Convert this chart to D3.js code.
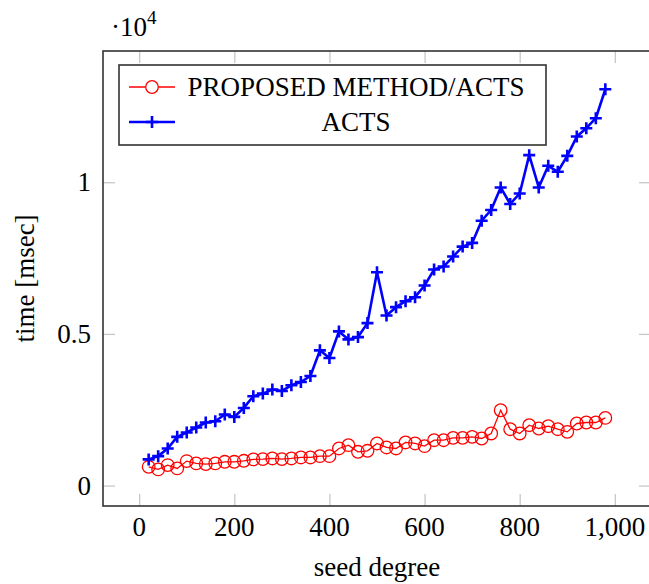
<!DOCTYPE html>
<html>
<head>
<meta charset="utf-8">
<script src="https://cdn.jsdelivr.net/npm/d3@7"></script>
<style>
body { margin: 0; background: #fff; }
svg { display: block; font-family: "Liberation Serif", "DejaVu Serif", serif; }
</style>
</head>
<body>
<script>
var seedDegree = [20, 40, 60, 80, 100, 120, 140, 160, 180, 200, 220, 240, 260, 280, 300, 320, 340, 360, 380, 400,
    420, 440, 460, 480, 500, 520, 540, 560, 580, 600, 620, 640, 660, 680, 700, 720, 740, 760, 780, 800,
    820, 840, 860, 880, 900, 920, 940, 960, 980];
var proposedTime = [618, 532, 674, 565, 806, 730, 707, 730, 783, 783, 816, 862, 872, 894, 872, 894, 927, 927, 970, 970,
    1223, 1332, 1112, 1145, 1388, 1256, 1223, 1421, 1388, 1299, 1496, 1496, 1572, 1572, 1605, 1552, 1717, 2483, 1858, 1717,
    1990, 1881, 1957, 1858, 1770, 2046, 2079, 2079, 2230];
var actsTime = [862, 970, 1223, 1605, 1750, 1914, 2078, 2121, 2341, 2263, 2559, 2944, 3032, 3164, 3118, 3305, 3414, 3611, 4457, 4204,
    5082, 4818, 4894, 5355, 7032, 5608, 5881, 6078, 6210, 6594, 7121, 7220, 7549, 7877, 7999, 8732, 9084, 9828, 9282, 9630,
    10893, 9828, 10541, 10344, 10870, 11505, 11781, 12110, 13064];
var xTicks = [0, 200, 400, 600, 800, 1000];
var yTicks = [0, 5000, 10000];
var legendLabels = ["PROPOSED METHOD/ACTS", "ACTS"];

var width = 649, height = 584;
var plotLeft = 103, plotRight = 651, plotTop = 51, plotBottom = 506;
var fontSize = 27;

var svg = d3.select("body").append("svg").attr("width", width).attr("height", height);
svg.append("rect").attr("width", width).attr("height", height).attr("fill", "#fff");

var x = d3.scaleLinear().domain([-76, 1076]).range([plotLeft, plotRight]);
var y = d3.scaleLinear().domain([-674, 14326]).range([plotBottom, plotTop]);

// ticks on all four sides, pointing inward
var tickLen = 12;
var tickColor = "#c8c8c8";
function styleTicks(g) {
    g.select(".domain").remove();
    g.selectAll("line").attr("stroke", tickColor).attr("stroke-width", 1.3);
}
svg.append("g").attr("transform", "translate(0," + plotBottom + ")")
    .call(d3.axisBottom(x).tickValues(xTicks).tickSize(-tickLen).tickFormat(""))
    .call(styleTicks);
svg.append("g").attr("transform", "translate(0," + plotTop + ")")
    .call(d3.axisTop(x).tickValues(xTicks).tickSize(-tickLen).tickFormat(""))
    .call(styleTicks);
svg.append("g").attr("transform", "translate(" + plotLeft + ",0)")
    .call(d3.axisLeft(y).tickValues(yTicks).tickSize(-tickLen).tickFormat(""))
    .call(styleTicks);
svg.append("g").attr("transform", "translate(" + plotRight + ",0)")
    .call(d3.axisRight(y).tickValues(yTicks).tickSize(-tickLen).tickFormat(""))
    .call(styleTicks);

// tick labels
svg.selectAll("text.xlab").data(xTicks).enter().append("text")
    .attr("class", "xlab")
    .attr("x", function (d) { return x(d); })
    .attr("y", 536)
    .attr("text-anchor", "middle")
    .attr("font-size", fontSize)
    .text(function (d) { return d3.format(",")(d); });
svg.selectAll("text.ylab").data(yTicks).enter().append("text")
    .attr("class", "ylab")
    .attr("x", 91)
    .attr("y", function (d) { return y(d) + 9; })
    .attr("text-anchor", "end")
    .attr("font-size", fontSize)
    .text(function (d) { return d / 10000; });

var mult = svg.append("text").attr("x", 111).attr("y", 36).attr("font-size", fontSize);
mult.append("tspan").text("\u00b710");
mult.append("tspan").attr("dy", -12).attr("font-size", 19).text("4");

// axis titles
svg.append("text").attr("x", (plotLeft + plotRight) / 2).attr("y", 576)
    .attr("text-anchor", "middle").attr("font-size", fontSize).text("seed degree");
svg.append("text").attr("transform", "translate(34," + ((plotTop + plotBottom) / 2) + ") rotate(-90)")
    .attr("text-anchor", "middle").attr("font-size", fontSize).text("time [msec]");

var plot = svg.append("g");
var line = d3.line().x(function (d) { return x(d[0]); }).y(function (d) { return y(d[1]); });
var redPts = d3.zip(seedDegree, proposedTime);
var bluePts = d3.zip(seedDegree, actsTime);

plot.append("path").datum(redPts).attr("d", line)
    .attr("fill", "none").attr("stroke", "#ff0000").attr("stroke-width", 1.3);
plot.selectAll("circle.red").data(redPts).enter().append("circle")
    .attr("class", "red")
    .attr("cx", function (d) { return x(d[0]); })
    .attr("cy", function (d) { return y(d[1]); })
    .attr("r", 6.3)
    .attr("fill", "none").attr("stroke", "#ff0000").attr("stroke-width", 1.3);

plot.append("path").datum(bluePts).attr("d", line)
    .attr("fill", "none").attr("stroke", "#0000ff").attr("stroke-width", 2.6).attr("stroke-linejoin", "round");
var plusPath = "M-6,0H6M0,-6V6";
plot.selectAll("path.plus").data(bluePts).enter().append("path")
    .attr("class", "plus")
    .attr("transform", function (d) { return "translate(" + x(d[0]) + "," + y(d[1]) + ")"; })
    .attr("d", plusPath)
    .attr("fill", "none").attr("stroke", "#0000ff").attr("stroke-width", 2.6);

// frame
svg.append("rect").attr("x", plotLeft).attr("y", plotTop)
    .attr("width", plotRight - plotLeft).attr("height", plotBottom - plotTop)
    .attr("fill", "none").attr("stroke", "#333").attr("stroke-width", 1.6);

// legend
var lg = svg.append("g");
lg.append("rect").attr("x", 119).attr("y", 65).attr("width", 427).attr("height", 80)
    .attr("fill", "#fff").attr("stroke", "#333").attr("stroke-width", 1.6);
var rowY = [87, 122];
lg.append("line").attr("x1", 129).attr("x2", 175).attr("y1", rowY[0]).attr("y2", rowY[0])
    .attr("stroke", "#ff0000").attr("stroke-width", 1.3);
lg.append("circle").attr("cx", 152).attr("cy", rowY[0]).attr("r", 6.3)
    .attr("fill", "#fff").attr("stroke", "#ff0000").attr("stroke-width", 1.3);
lg.append("line").attr("x1", 129).attr("x2", 175).attr("y1", rowY[1]).attr("y2", rowY[1])
    .attr("stroke", "#0000ff").attr("stroke-width", 2.6);
lg.append("path").attr("transform", "translate(152," + rowY[1] + ")").attr("d", plusPath)
    .attr("fill", "none").attr("stroke", "#0000ff").attr("stroke-width", 2.6);
lg.selectAll("text.leg").data(legendLabels).enter().append("text")
    .attr("class", "leg")
    .attr("x", 356)
    .attr("y", function (d, i) { return rowY[i] + 9; })
    .attr("text-anchor", "middle")
    .attr("font-size", fontSize)
    .text(function (d) { return d; });
</script>
</body>
</html>
